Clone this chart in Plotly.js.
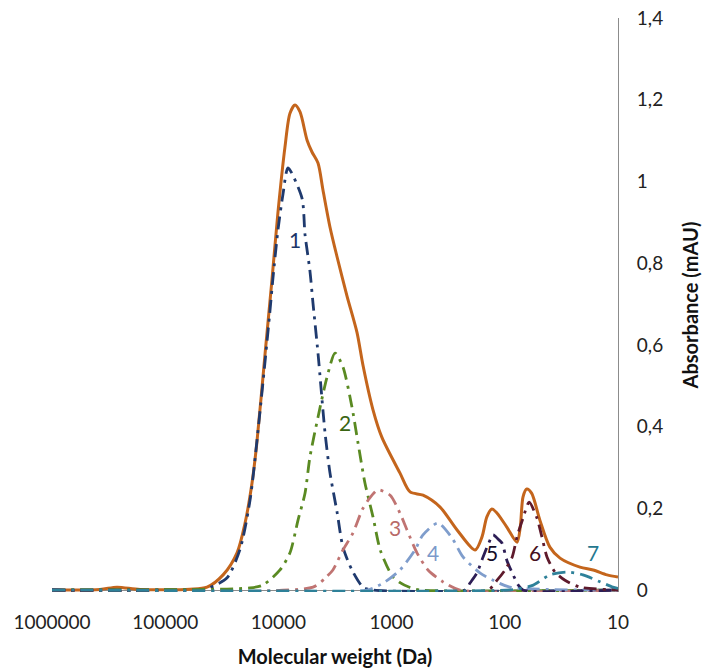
<!DOCTYPE html>
<html>
<head>
<meta charset="utf-8">
<script src="https://cdn.plot.ly/plotly-3.0.1.min.js"></script>
<style>html,body{margin:0;padding:0;background:#fff;}#chart{width:703px;height:672px;}</style>
</head>
<body>
<div id="chart"></div>
<script>
// Total chromatogram (orange)
const totalMW = [1000000, 377000, 267000, 167000, 60400, 42700, 30800, 23200, 19700, 17100, 15500, 13100, 11400, 10100, 8750, 7900, 7130, 6440, 5580, 5050, 4470, 4040, 3500, 3030, 2480, 2020, 1790, 1460, 1220, 843, 687, 528, 373, 264, 183, 159, 144, 130, 117, 96, 78, 73, 69, 64, 58, 49, 40, 32.5, 21.7, 16.6, 12.5, 10];
const totalAbs = [0, 0.001, 0.007, 0.001, 0.002, 0.007, 0.037, 0.091, 0.164, 0.262, 0.36, 0.58, 0.759, 0.923, 1.084, 1.167, 1.187, 1.17, 1.101, 1.072, 1.045, 0.979, 0.888, 0.815, 0.72, 0.63, 0.55, 0.441, 0.374, 0.286, 0.24, 0.232, 0.203, 0.147, 0.098, 0.13, 0.179, 0.198, 0.188, 0.154, 0.117, 0.154, 0.228, 0.247, 0.237, 0.171, 0.105, 0.078, 0.056, 0.049, 0.037, 0.032];

// Deconvoluted components 1..7
const p1MW  = [1000000, 60000, 49300, 40200, 28400, 21800, 17800, 14500, 11900, 11200, 10100, 9100, 8220, 6190, 5820, 5260, 4940, 4470, 3870, 3500, 3030, 2690, 2240, 1790, 1490, 10];
const p1Abs = [0, 0, 0, 0.006, 0.03, 0.1, 0.22, 0.44, 0.68, 0.76, 0.88, 0.97, 1.033, 0.959, 0.87, 0.78, 0.70, 0.58, 0.384, 0.286, 0.19, 0.105, 0.049, 0.007, 0, 0];

const p2MW  = [1000000, 17800, 13700, 9680, 7900, 6710, 5820, 5260, 4470, 3720, 3160, 2690, 2240, 1980, 1720, 1460, 1260, 991, 843, 687, 561, 10];
const p2Abs = [0, 0.005, 0.012, 0.049, 0.091, 0.171, 0.237, 0.326, 0.423, 0.521, 0.58, 0.546, 0.448, 0.36, 0.262, 0.179, 0.098, 0.035, 0.018, 0.006, 0, 0];

const p3MW  = [1000000, 4940, 3870, 3300, 2690, 2190, 1820, 1610, 1320, 1030, 843, 731, 597, 477, 352, 249, 10];
const p3Abs = [0, 0.007, 0.029, 0.049, 0.098, 0.14, 0.196, 0.22, 0.245, 0.232, 0.188, 0.147, 0.091, 0.049, 0.02, 0, 0];

const p4MW  = [1000000, 1650, 1140, 843, 621, 528, 389, 292, 234, 166, 127, 90, 10];
const p4Abs = [0, 0, 0.02, 0.049, 0.098, 0.135, 0.164, 0.127, 0.081, 0.042, 0.024, 0.007, 0];

const p5MW  = [1000000, 225, 203, 176, 156, 141, 127, 115, 106, 96, 86, 76, 69, 10];
const p5Abs = [0, 0, 0.017, 0.042, 0.08, 0.11, 0.135, 0.125, 0.115, 0.073, 0.042, 0.012, 0, 0];

const p6MW  = [1000000, 141, 117, 99.5, 86, 78, 69, 61, 52, 47, 42.4, 36, 29.4, 21.7, 10];
const p6Abs = [0, 0, 0.024, 0.049, 0.081, 0.13, 0.176, 0.215, 0.176, 0.13, 0.081, 0.044, 0.024, 0.007, 0];

const p7MW  = [1000000, 90, 73, 56, 40, 28.2, 20.4, 14.4, 11.1, 10];
const p7Abs = [0, 0, 0.004, 0.012, 0.037, 0.044, 0.037, 0.02, 0.007, 0.004];

const peakLabels = ["1", "2", "3", "4", "5", "6", "7"];
const xTickVals = [1000000, 100000, 10000, 1000, 100, 10];
const xTickText = ["1000000", "100000", "10000", "1000", "100", "10"];
const yTickVals = [0, 0.2, 0.4, 0.6, 0.8, 1, 1.2, 1.4];
const yTickText = ["0", "0,2", "0,4", "0,6", "0,8", "1", "1,2", "1,4"];

const FONT = "Lato, 'Open Sans', sans-serif";
const dashPat = "13px,6px,3px,6px";

const comps = [
  {x: p1MW, y: p1Abs, color: "#1f3a6e", lab: "#1c3568", pos: [7130, 0.857]},
  {x: p2MW, y: p2Abs, color: "#5a8a22", lab: "#3a6512", pos: [2580, 0.411]},
  {x: p3MW, y: p3Abs, color: "#c07472", lab: "#b86a68", pos: [933, 0.154]},
  {x: p4MW, y: p4Abs, color: "#7f9dcc", lab: "#7b99ca", pos: [431, 0.091]},
  {x: p5MW, y: p5Abs, color: "#2c1d55", lab: "#140c28", pos: [130, 0.091]},
  {x: p6MW, y: p6Abs, color: "#5e1a2c", lab: "#45101e", pos: [54, 0.091]},
  {x: p7MW, y: p7Abs, color: "#2e8199", lab: "#24788f", pos: [16.6, 0.093]}
];

const traces = [{
  x: totalMW, y: totalAbs, type: "scatter", mode: "lines",
  line: {color: "#c4651c", width: 3, shape: "spline", smoothing: 0.8},
  hoverinfo: "skip"
}];
comps.forEach(c => traces.push({
  x: c.x, y: c.y, type: "scatter", mode: "lines",
  line: {color: c.color, width: 2.8, dash: dashPat, shape: "spline", smoothing: 0.7},
  hoverinfo: "skip"
}));

const annotations = comps.map((c, i) => ({
  x: Math.log10(c.pos[0]), y: c.pos[1], xref: "x", yref: "y",
  text: peakLabels[i], showarrow: false,
  font: {family: FONT, size: 21, color: c.lab}
}));

const layout = {
  width: 703, height: 672,
  margin: {l: 52, r: 85, t: 18, b: 80},
  paper_bgcolor: "#fff", plot_bgcolor: "#fff",
  showlegend: false,
  font: {family: FONT, color: "#222"},
  xaxis: {
    type: "log", range: [6, 1], autorange: false,
    tickvals: xTickVals, ticktext: xTickText,
    showgrid: false, zeroline: false, showline: false, ticks: "",
    tickfont: {family: FONT, size: 19, color: "#222"},
    ticklabelstandoff: 17,
    title: {text: "Molecular weight (Da)", font: {family: FONT, size: 20, color: "#111", weight: "bold"}, standoff: 17}
  },
  yaxis: {
    side: "right", range: [-0.0049, 1.4], autorange: false,
    tickvals: yTickVals, ticktext: yTickText,
    showgrid: false, zeroline: true, zerolinecolor: "#8c8c8c", zerolinewidth: 1,
    showline: true, linecolor: "#8c8c8c", linewidth: 1, ticks: "",
    tickfont: {family: FONT, size: 19, color: "#222"},
    ticklabelstandoff: 14,
    title: {text: "Absorbance (mAU)", font: {family: FONT, size: 20, color: "#111", weight: "bold"}, standoff: 21}
  },
  annotations: annotations
};

Plotly.newPlot("chart", traces, layout, {staticPlot: true, displayModeBar: false});
</script>
</body>
</html>
